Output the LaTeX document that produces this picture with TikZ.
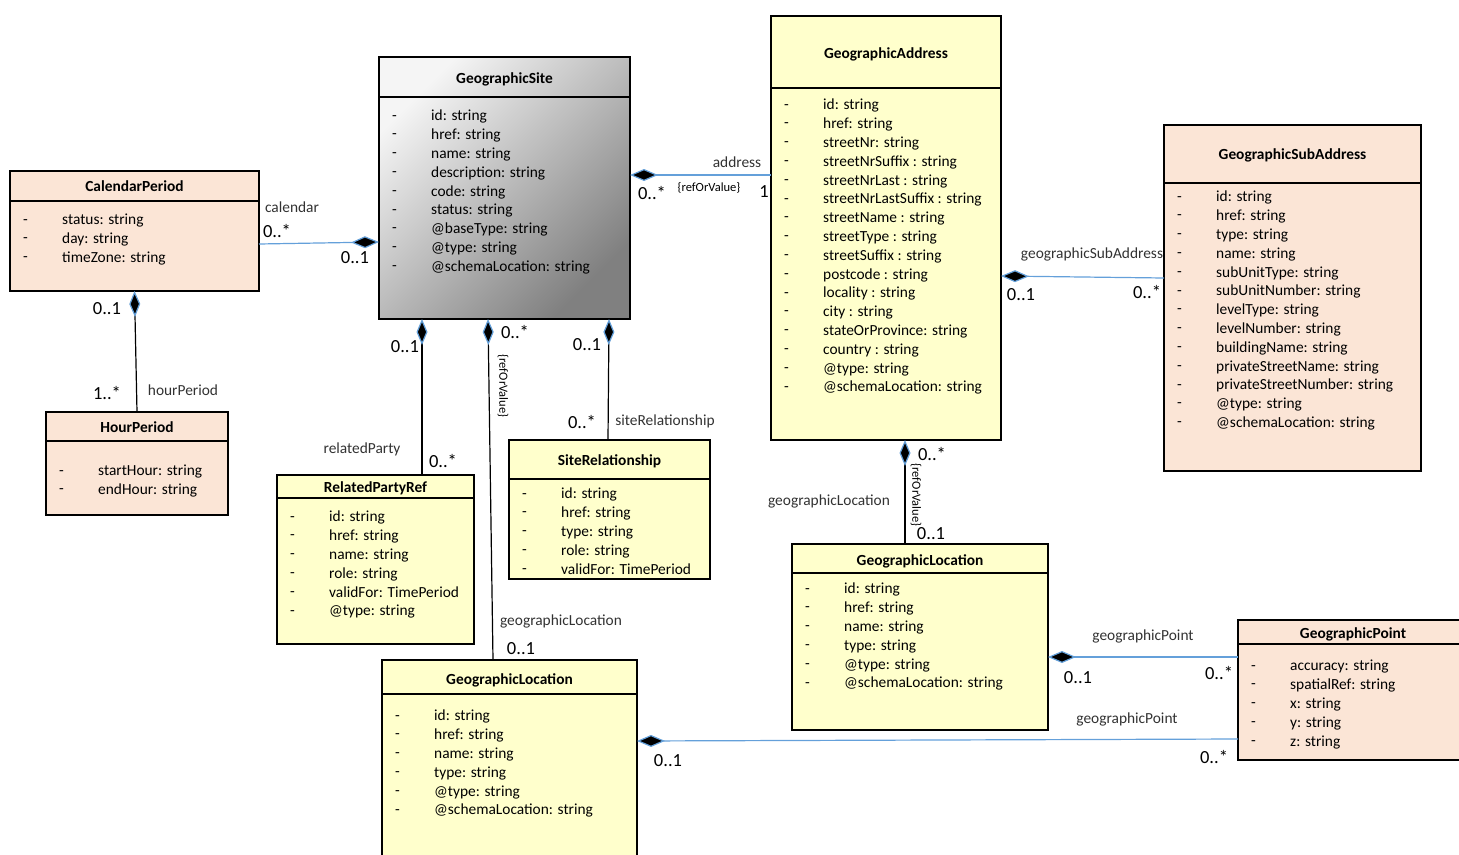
\documentclass[tikz,border=0pt]{standalone}
\usepackage{fontspec}
\setmainfont{Carlito}
\usetikzlibrary{arrows.meta}

\definecolor{peach}{RGB}{251,229,214}
\definecolor{paleyellow}{RGB}{255,255,204}
\definecolor{linkblue}{RGB}{100,160,218}
\definecolor{rolegray}{RGB}{50,50,50}

\begin{document}
\begin{tikzpicture}[
    x=1pt, y=-1pt,
    classbox/.style={draw, line width=1.4pt, anchor=north west, inner sep=0pt, outer sep=0pt},
    divider/.style={line width=1.4pt},
    title/.style={anchor=base, inner sep=0pt, font=\fontsize{15.4}{18.8}\selectfont\bfseries},
    attrs/.style={anchor=north west, inner sep=0pt, align=left, font=\fontsize{15.4}{18.8}\selectfont, execute at begin node=\strut},
    role/.style={inner sep=0pt, text=rolegray, font=\fontsize{15.4}{18.8}\selectfont},
    mult/.style={inner sep=0pt, font=\fontsize{18.5}{20}\selectfont},
    refval/.style={inner sep=0pt, font=\fontsize{12.5}{14}\selectfont},
    hlink/.style={draw=linkblue, line width=1.2pt, {Diamond[length=28pt, width=12pt, fill=black]}-},
    vlink/.style={draw=black, line width=1.2pt, {Diamond[length=26pt, width=11pt, color=linkblue, fill=black]}-}
]
\useasboundingbox (0,0) rectangle (1459,854);
\clip (0,0) rectangle (1459,854);

% Classes
\node[classbox, fill=peach, minimum width=249pt, minimum height=120pt] (cal) at (10,171) {};
\draw[divider] ([yshift=-30pt]cal.north west) -- ([yshift=-30pt]cal.north east);
\node[title] (calt) at (134.5,191) {CalendarPeriod};
\node[attrs] (cald) at (23,219) {-\\-\\-};
\node[attrs] (cala) at (62,214) {status: string\\day: string\\timeZone: string};

\node[classbox, fill=peach, minimum width=182pt, minimum height=103pt] (hour) at (46,412) {};
\draw[divider] ([yshift=-29pt]hour.north west) -- ([yshift=-29pt]hour.north east);
\node[title] (hourt) at (137,432) {HourPeriod};
\node[attrs] (hourd) at (59,470) {-\\-};
\node[attrs] (houra) at (98,465) {startHour: string\\endHour: string};

\node[classbox, top color=black!4, middle color=black!15, bottom color=black!50, shading angle=45, minimum width=251pt, minimum height=262pt] (site) at (379,57) {};
\draw[divider] ([yshift=-40pt]site.north west) -- ([yshift=-40pt]site.north east);
\node[title] (sitet) at (504.5,83) {GeographicSite};
\node[attrs] (sited) at (392,115) {-\\-\\-\\-\\-\\-\\-\\-\\-};
\node[attrs] (sitea) at (431,110) {id: string\\href: string\\name: string\\description: string\\code: string\\status: string\\@baseType: string\\@type: string\\@schemaLocation: string};

\node[classbox, fill=paleyellow, minimum width=230pt, minimum height=424pt] (addr) at (771,16) {};
\draw[divider] ([yshift=-72pt]addr.north west) -- ([yshift=-72pt]addr.north east);
\node[title] (addrt) at (886,58) {GeographicAddress};
\node[attrs] (addrd) at (784,104) {-\\-\\-\\-\\-\\-\\-\\-\\-\\-\\-\\-\\-\\-\\-\\-};
\node[attrs] (addra) at (823,99) {id: string\\href: string\\streetNr: string\\streetNrSuffix : string\\streetNrLast : string\\streetNrLastSuffix : string\\streetName : string\\streetType : string\\streetSuffix : string\\postcode : string\\locality : string\\city : string\\stateOrProvince: string\\country : string\\@type: string\\@schemaLocation: string};

\node[classbox, fill=peach, minimum width=257pt, minimum height=346pt] (sub) at (1164,125) {};
\draw[divider] ([yshift=-58pt]sub.north west) -- ([yshift=-58pt]sub.north east);
\node[title] (subt) at (1292.5,159) {GeographicSubAddress};
\node[attrs] (subd) at (1177,196) {-\\-\\-\\-\\-\\-\\-\\-\\-\\-\\-\\-\\-};
\node[attrs] (suba) at (1216,191) {id: string\\href: string\\type: string\\name: string\\subUnitType: string\\subUnitNumber: string\\levelType: string\\levelNumber: string\\buildingName: string\\privateStreetName: string\\privateStreetNumber: string\\@type: string\\@schemaLocation: string};

\node[classbox, fill=paleyellow, minimum width=197pt, minimum height=169pt] (party) at (277,475) {};
\draw[divider] ([yshift=-23pt]party.north west) -- ([yshift=-23pt]party.north east);
\node[title] (partyt) at (375.5,492) {RelatedPartyRef};
\node[attrs] (partyd) at (290,516) {-\\-\\-\\-\\-\\-};
\node[attrs] (partya) at (329,511) {id: string\\href: string\\name: string\\role: string\\validFor: TimePeriod\\@type: string};

\node[classbox, fill=paleyellow, minimum width=201pt, minimum height=139pt] (rel) at (509,440) {};
\draw[divider] ([yshift=-39pt]rel.north west) -- ([yshift=-39pt]rel.north east);
\node[title] (relt) at (609.5,465) {SiteRelationship};
\node[attrs] (reld) at (522,493) {-\\-\\-\\-\\-};
\node[attrs] (rela) at (561,488) {id: string\\href: string\\type: string\\role: string\\validFor: TimePeriod};

\node[classbox, fill=paleyellow, minimum width=256pt, minimum height=186pt] (locr) at (792,544) {};
\draw[divider] ([yshift=-29pt]locr.north west) -- ([yshift=-29pt]locr.north east);
\node[title] (locrt) at (920,565) {GeographicLocation};
\node[attrs] (locrd) at (805,588) {-\\-\\-\\-\\-\\-};
\node[attrs] (locra) at (844,583) {id: string\\href: string\\name: string\\type: string\\@type: string\\@schemaLocation: string};

\node[classbox, fill=peach, minimum width=230pt, minimum height=140pt] (point) at (1238,620) {};
\draw[divider] ([yshift=-24pt]point.north west) -- ([yshift=-24pt]point.north east);
\node[title] (pointt) at (1353,638) {GeographicPoint};
\node[attrs] (pointd) at (1251,665) {-\\-\\-\\-\\-};
\node[attrs] (pointa) at (1290,660) {accuracy: string\\spatialRef: string\\x: string\\y: string\\z: string};

\node[classbox, fill=paleyellow, minimum width=255pt, minimum height=220pt] (locb) at (382,660) {};
\draw[divider] ([yshift=-34pt]locb.north west) -- ([yshift=-34pt]locb.north east);
\node[title] (locbt) at (509.5,684) {GeographicLocation};
\node[attrs] (locbd) at (395,715) {-\\-\\-\\-\\-\\-};
\node[attrs] (locba) at (434,710) {id: string\\href: string\\name: string\\type: string\\@type: string\\@schemaLocation: string};

% Associations
\draw[hlink] ([yshift=-54pt]site.west) -- ([yshift=-13pt]cal.east);
\draw[hlink] ([yshift=13pt]site.east) -- ([yshift=53pt]addr.west);
\draw[hlink] ([yshift=-48pt]addr.east) -- ([yshift=20pt]sub.west);
\draw[vlink] (cal.south) -- (hour.north);
\draw[vlink] ([xshift=-82.5pt]site.south) -- ([xshift=46.5pt]party.north);
\draw[vlink] ([xshift=-16.5pt]site.south) -- ([xshift=-16.5pt]locb.north);
\draw[vlink] ([xshift=104.5pt]site.south) -- ([xshift=-1.5pt]rel.north);
\draw[vlink] ([xshift=19pt]addr.south) -- ([xshift=-15pt]locr.north);
\draw[hlink] ([yshift=-20pt]locr.east) -- ([yshift=33pt]point.west);
\draw[hlink] ([yshift=29pt]locb.east) -- ([yshift=-49pt]point.west);

% Role names
\node[role] (rcal) at (292,207) {calendar};
\node[role] (raddr) at (737,162) {address};
\node[role] (rsub) at (1092,254) {geographicSubAddress};
\node[role] (rhour) at (183,390) {hourPeriod};
\node[role] (rparty) at (362,449) {relatedParty};
\node[role] (rlocb) at (561,621) {geographicLocation};
\node[role] (rrel) at (665,421) {siteRelationship};
\node[role] (rlocr) at (829,501) {geographicLocation};
\node[role] (rpoint) at (1143,636) {geographicPoint};
\node[role] (rpointb) at (1127,719) {geographicPoint};

% Multiplicities
\node[mult] (mcal1) at (277,231) {0..*};
\node[mult] (mcal2) at (355,258) {0..1};
\node[mult] (maddr1) at (652,193) {0..*};
\node[mult] (maddr2) at (764,192) {1};
\node[refval] (vaddr) at (709,188) {\{refOrValue\}};
\node[mult] (msub1) at (1021,295) {0..1};
\node[mult] (msub2) at (1147,292) {0..*};
\node[mult] (mhour1) at (107,309) {0..1};
\node[mult] (mhour2) at (107,393) {1..*};
\node[mult] (mparty1) at (405,347) {0..1};
\node[mult] (mparty2) at (443,461) {0..*};
\node[mult] (mlocb1) at (515,332) {0..*};
\node[refval, rotate=-90] (vlocb) at (503,386) {\{refOrValue\}};
\node[mult] (mlocb2) at (521,649) {0..1};
\node[mult] (mrel1) at (587,345) {0..1};
\node[mult] (mrel2) at (582,422) {0..*};
\node[mult] (mlocr1) at (932,454) {0..*};
\node[refval, rotate=-90] (vlocr) at (916,495) {\{refOrValue\}};
\node[mult] (mlocr2) at (931,534) {0..1};
\node[mult] (mpoint1) at (1078,678) {0..1};
\node[mult] (mpoint2) at (1219,673) {0..*};
\node[mult] (mpointb1) at (668,761) {0..1};
\node[mult] (mpointb2) at (1214,757) {0..*};

\end{tikzpicture}
\end{document}
